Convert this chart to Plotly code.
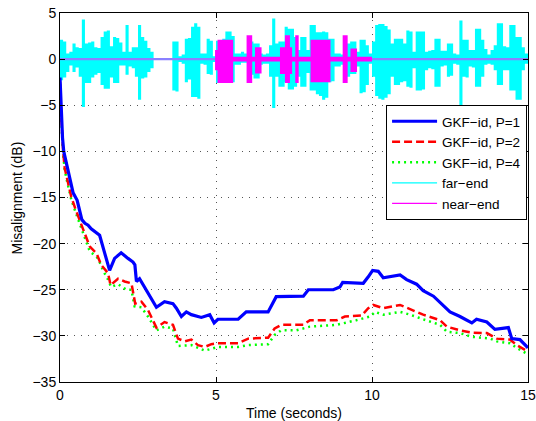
import plotly.graph_objects as go

# ---------------- data ----------------
# misalignment curves (time in seconds, value in dB)
p1_t = [0.0, 0.03, 0.08, 0.12, 0.2, 0.27, 0.35, 0.42, 0.55, 0.64, 0.7, 0.8, 0.9, 1.0, 1.11, 1.27,
        1.43, 1.59, 1.75, 1.96, 2.18, 2.34, 2.4, 2.45, 2.55, 2.71, 2.93, 3.09, 3.35, 3.62, 3.73,
        3.89, 4.05, 4.21, 4.53, 4.8, 4.94, 5.06, 5.71, 5.97, 6.67, 6.93, 7.8, 7.96, 8.76, 8.97,
        9.06, 9.72, 9.88, 10.02, 10.2, 10.36, 10.9, 11.11, 11.43, 11.64, 11.97, 12.29, 12.5,
        12.82, 13.2, 13.35, 13.68, 13.94, 14.21, 14.37, 14.48, 14.74, 15.0]
p1_v = [-2.0, -5.0, -8.5, -10.0, -11.2, -12.0, -13.3, -14.5, -15.3, -16.4, -17.4, -17.8, -18.0,
        -18.4, -18.7, -19.1, -21.0, -22.9, -21.6, -21.0, -21.6, -22.0, -22.3, -24.1, -23.8,
        -24.7, -25.9, -26.9, -26.3, -26.5, -27.0, -27.9, -27.4, -27.7, -28.0, -27.7, -28.6,
        -28.2, -28.2, -27.4, -27.4, -25.75, -25.7, -25.0, -25.0, -24.7, -24.2, -24.3, -23.6,
        -22.9, -23.0, -23.7, -23.4, -23.9, -24.4, -25.1, -25.7, -26.7, -27.4, -27.9, -28.6,
        -28.2, -28.5, -29.3, -29.2, -29.1, -30.3, -30.4, -31.3]

p2_t = [0.0, 0.03, 0.1, 0.15, 0.25, 0.36, 0.5, 0.63, 0.8, 0.95, 1.17, 1.32, 1.54, 1.62, 1.86,
        2.07, 2.29, 2.37, 2.41, 2.61, 2.82, 3.09, 3.35, 3.62, 3.78, 4.0, 4.21, 4.42, 4.64, 4.85,
        5.06, 5.71, 6.03, 6.67, 6.88, 7.09, 7.8, 8.01, 8.87, 9.13, 9.67, 9.88, 10.04, 10.36,
        10.9, 11.22, 11.64, 12.18, 12.4, 12.82, 13.2, 13.68, 14.0, 14.42, 14.64, 15.0]
p2_v = [-2.5, -5.5, -10.0, -11.8, -13.3, -14.9, -16.3, -17.4, -19.0, -20.3, -21.05, -22.3,
        -23.2, -24.5, -23.8, -24.1, -24.3, -25.6, -26.5, -26.3, -27.2, -29.1, -28.5, -28.8,
        -30.3, -30.6, -30.4, -31.0, -31.2, -30.9, -30.8, -30.8, -30.3, -30.2, -29.2, -28.8,
        -28.8, -28.3, -28.3, -27.9, -27.8, -27.0, -26.65, -27.0, -26.65, -27.1, -27.7, -28.3,
        -29.0, -29.4, -29.65, -29.7, -30.3, -30.4, -31.0, -31.7]

p4_t = [0.0, 0.03, 0.1, 0.15, 0.25, 0.36, 0.5, 0.63, 0.8, 0.95, 1.22, 1.38, 1.54, 1.64, 1.86,
        2.13, 2.29, 2.39, 2.61, 2.82, 3.09, 3.35, 3.62, 3.78, 4.21, 4.64, 4.85, 5.06, 5.71,
        6.03, 6.67, 6.88, 7.09, 7.57, 8.01, 8.87, 9.5, 9.94, 10.1, 10.36, 10.9, 11.22, 11.64,
        12.18, 12.4, 12.82, 13.2, 13.8, 14.0, 14.42, 14.64, 15.0]
p4_v = [-2.7, -5.8, -10.2, -12.0, -13.6, -15.2, -16.6, -17.75, -19.4, -20.8, -21.6, -22.9,
        -23.9, -24.7, -24.4, -25.0, -25.0, -26.8, -26.9, -27.9, -29.4, -29.0, -29.2, -31.1,
        -31.0, -31.6, -31.4, -31.2, -31.2, -31.0, -30.9, -29.9, -29.4, -29.4, -29.0, -28.8,
        -28.3, -27.9, -27.4, -27.7, -27.4, -27.7, -28.2, -28.8, -29.55, -29.7, -30.1, -30.3,
        -30.6, -30.8, -31.3, -32.0]

# far-end speech envelope, 0.1 s blocks: upper and lower amplitudes
far_t = [round(0.1 * i, 1) for i in range(151)]
far_up = [2.1, 1.9, 0.6, 0.8, 1.7, 1.3, 1.2, 4.3, 1.7, 1.8,
          1.9, 1.3, 1.2, 2.4, 3.0, 3.1, 1.4, 2.4, 2.3, 1.8,
          0.8, 3.7, 0.8, 1.3, 1.3, 3.7, 2.4, 2.0, 1.2, 0.8,
          0.1, 0.1, 0.1, 0.1, 0.1, 0.1, 1.9, 1.9, 0.3, 0.5,
          2.2, 2.3, 3.5, 3.9, 3.5, 0.6, 0.6, 2.2, 2.0, 0.3,
          2.0, 2.0, 2.2, 3.0, 3.0, 2.5, 0.6, 0.6, 0.8, 0.6,
          0.4, 1.9, 1.7, 1.7, 0.6, 0.5, 0.6, 1.5, 4.4, 1.7,
          1.9, 1.9, 3.5, 3.3, 3.3, 2.4, 1.0, 2.4, 2.4, 1.0,
          3.7, 3.7, 2.9, 2.9, 3.0, 2.9, 2.2, 2.2, 0.6, 0.6,
          0.5, 1.7, 1.7, 1.9, 1.9, 0.8, 2.1, 2.1, 1.5, 0.6,
          1.9, 3.7, 3.8, 3.8, 3.6, 3.2, 1.7, 2.2, 2.2, 2.2,
          1.7, 3.1, 3.0, 0.8, 3.0, 3.0, 3.0, 0.8, 0.9, 1.0,
          2.2, 2.2, 0.9, 0.9, 1.7, 1.7, 0.6, 0.5, 4.2, 2.1,
          2.1, 1.0, 1.0, 3.3, 3.3, 2.1, 1.1, 0.5, 1.0, 1.5,
          3.9, 3.9, 1.4, 1.3, 3.7, 3.7, 2.4, 2.4, 1.3, 0.6,
          0.6]
far_lo = [2.3, 2.0, 1.4, 0.7, 1.4, 0.9, 1.9, 5.2, 2.6, 2.6,
          2.0, 1.7, 1.5, 2.8, 3.2, 3.2, 2.0, 2.6, 2.6, 0.7,
          0.7, 1.7, 0.8, 1.0, 1.9, 4.4, 2.1, 2.0, 1.4, 1.0,
          0.1, 0.1, 0.1, 0.1, 0.1, 0.1, 3.4, 3.5, 0.3, 0.5,
          2.5, 2.2, 4.1, 4.1, 4.3, 0.5, 0.6, 1.6, 1.7, 0.3,
          2.6, 2.6, 2.6, 2.6, 2.6, 2.5, 0.6, 0.6, 0.4, 0.4,
          0.4, 1.7, 2.1, 2.1, 0.6, 0.5, 0.5, 1.9, 5.3, 1.9,
          3.0, 3.0, 2.5, 3.3, 3.3, 3.0, 1.9, 3.0, 3.0, 1.5,
          3.4, 3.4, 3.8, 4.0, 4.4, 4.2, 2.5, 2.4, 0.8, 0.8,
          0.6, 1.9, 1.9, 1.6, 1.6, 0.8, 3.7, 3.6, 2.8, 0.5,
          1.9, 4.0, 4.3, 4.4, 4.2, 3.8, 1.9, 2.8, 2.8, 2.5,
          2.4, 3.0, 3.1, 1.0, 3.4, 3.4, 3.3, 1.2, 1.0, 1.1,
          3.0, 3.0, 0.8, 0.7, 1.9, 1.8, 0.5, 0.6, 5.0, 1.9,
          2.0, 0.8, 0.9, 3.0, 3.0, 1.9, 0.6, 0.5, 0.6, 1.2,
          2.8, 2.8, 1.2, 1.2, 3.4, 3.4, 4.4, 4.4, 1.2, 0.5,
          0.5]

# near-end speech bursts: block start times (last = end), upper and lower amplitudes
near_t = [4.97, 5.05, 5.55, 5.98, 6.16, 6.25, 6.46, 7.05, 7.21, 7.37, 7.44, 7.54, 7.65, 8.03,
          8.67, 9.06, 9.22, 9.31, 9.52, 10.0]
near_up = [1.0, 2.1, 0.25, 2.6, 0.25, 1.3, 0.25, 1.3, 2.6, 1.3, 0.25, 2.6, 0.25, 2.1,
           0.25, 2.6, 0.25, 1.15, 0.25]
near_lo = [1.2, 2.6, 0.25, 2.6, 0.25, 1.55, 0.25, 1.6, 2.6, 1.6, 0.25, 2.6, 0.25, 2.5,
           0.25, 2.6, 0.25, 1.4, 0.25]

# ---------------- figure ----------------
fig = go.Figure()


def add_band(t, up, lo, color):
    # step-shaped filled envelope between -lo and +up
    ys_up = list(up) + [up[-1]] * (len(t) - len(up))
    ys_lo = [-v for v in lo] + [-lo[-1]] * (len(t) - len(lo))
    fig.add_trace(go.Scatter(x=t, y=ys_lo, mode="lines", line=dict(width=0, color=color, shape="hv"),
                             showlegend=False, hoverinfo="skip"))
    fig.add_trace(go.Scatter(x=t, y=ys_up, mode="lines", line=dict(width=0, color=color, shape="hv"),
                             fill="tonexty", fillcolor=color, showlegend=False, hoverinfo="skip"))


add_band(far_t, far_up, far_lo, "#00ffff")

fig.add_trace(go.Scatter(
    x=[far_t[0], far_t[-1]], y=[0, 0], mode="lines",
    line=dict(color="#8a80ff", width=2.3), showlegend=False, hoverinfo="skip"))

add_band(near_t, near_up, near_lo, "#ff00ff")

fig.add_trace(go.Scatter(x=p4_t, y=p4_v, mode="lines", name="GKF\u2212id, P=4",
                         line=dict(color="#00ff00", width=2.5, dash="2px,4px"), legendrank=3))
fig.add_trace(go.Scatter(x=p2_t, y=p2_v, mode="lines", name="GKF\u2212id, P=2",
                         line=dict(color="#ff0000", width=2.5, dash="8px,4px"), legendrank=2))
fig.add_trace(go.Scatter(x=p1_t, y=p1_v, mode="lines", name="GKF\u2212id, P=1",
                         line=dict(color="#0000ff", width=3.2), legendrank=1))

# legend-only entries for the speech signals
fig.add_trace(go.Scatter(x=[None], y=[None], mode="lines", name="far\u2212end",
                         line=dict(color="#00ffff", width=1.2), legendrank=4))
fig.add_trace(go.Scatter(x=[None], y=[None], mode="lines", name="near\u2212end",
                         line=dict(color="#ff00ff", width=1.2), legendrank=5))

font_family = "Liberation Sans, Arial, Helvetica, sans-serif"
axis_common = dict(
    showline=True, linecolor="black", linewidth=1, mirror="all",
    ticks="inside", ticklen=5, tickcolor="black", automargin=False,
    showgrid=True, gridcolor="#555555", gridwidth=1, griddash="1px,6px",
    zeroline=False, tickfont=dict(size=14, color="black", family=font_family),
)

fig.update_xaxes(range=[0, 15], tick0=0, dtick=5,
                 title=dict(text="Time (seconds)",
                            font=dict(size=14, color="black", family=font_family)),
                 **axis_common)
fig.update_yaxes(range=[-35, 5], tick0=0, dtick=5, **axis_common)

# y-axis title placed as rotated text at the reference position
fig.add_annotation(text="Misalignment (dB)", textangle=-90, showarrow=False,
                   xref="paper", yref="paper", x=-0.0919, y=0.5,
                   xanchor="center", yanchor="middle",
                   font=dict(size=14, color="black", family=font_family))

fig.update_layout(
    width=536, height=421,
    margin=dict(l=60, r=8, t=13, b=39),
    paper_bgcolor="white", plot_bgcolor="white",
    font=dict(family=font_family, size=14, color="black"),
    legend=dict(x=0.998, y=0.7507, xanchor="right", yanchor="top",
                bgcolor="white", bordercolor="black", borderwidth=1,
                itemwidth=45,
                font=dict(size=13.5, family=font_family, color="black"),
                traceorder="normal", tracegroupgap=0),
)

fig.write_html("out.html")
